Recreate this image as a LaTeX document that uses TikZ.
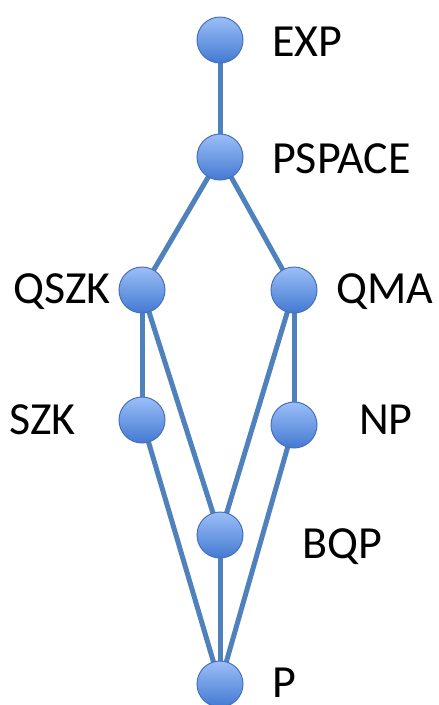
\documentclass[tikz,border=0pt]{standalone}
\usepackage{fontspec}
\setmainfont{Carlito}
\definecolor{edgec}{RGB}{79,129,189}
\definecolor{topc}{RGB}{155,190,247}
\definecolor{botc}{RGB}{68,122,210}
\definecolor{rimc}{RGB}{70,112,185}
\tikzset{
  cls/.style={circle, minimum size=46pt, inner sep=0pt, draw=rimc, line width=1pt, top color=topc, bottom color=botc},
  lbl/.style={font=\fontsize{46}{55}\selectfont, inner sep=0pt},
  edge/.style={draw=edgec, line width=5pt}
}
\begin{document}
\begin{tikzpicture}[x=1pt,y=-1pt]
\useasboundingbox (0,0) rectangle (439,705);
\coordinate (cEXP) at (220,40);
\coordinate (cPSPACE) at (220,157);
\coordinate (cQSZK) at (142,290);
\coordinate (cQMA) at (294,290);
\coordinate (cSZK) at (142,420);
\coordinate (cNP) at (294,425);
\coordinate (cBQP) at (220,535);
\coordinate (cP) at (220,684);
\draw[edge] (cEXP) -- (cPSPACE);
\draw[edge] (cPSPACE) -- (cQSZK);
\draw[edge] (cPSPACE) -- (cQMA);
\draw[edge] (cQSZK) -- (cSZK);
\draw[edge] (cQSZK) -- (cBQP);
\draw[edge] (cQMA) -- (cNP);
\draw[edge] (cQMA) -- (cBQP);
\draw[edge] (cSZK) -- (cP);
\draw[edge] (cBQP) -- (cP);
\draw[edge] (cNP) -- (cP);
\node[cls] (EXP) at (cEXP) {};
\node[cls] (PSPACE) at (cPSPACE) {};
\node[cls] (QSZK) at (cQSZK) {};
\node[cls] (QMA) at (cQMA) {};
\node[cls] (SZK) at (cSZK) {};
\node[cls] (NP) at (cNP) {};
\node[cls] (BQP) at (cBQP) {};
\node[cls] (P) at (cP) {};
\node[lbl, anchor=west] (tEXP) at (272,42) {EXP};
\node[lbl, anchor=west] (tPSPACE) at (272,159) {PSPACE};
\node[lbl, anchor=east] (tQSZK) at (111,292) {QSZK};
\node[lbl, anchor=west] (tQMA) at (336,292) {QMA};
\node[lbl, anchor=west] (tSZK) at (9,420) {SZK};
\node[lbl, anchor=west] (tNP) at (359,420) {NP};
\node[lbl, anchor=west] (tBQP) at (302,547) {BQP};
\node[lbl, anchor=west] (tP) at (272,683) {P};
\end{tikzpicture}
\end{document}
